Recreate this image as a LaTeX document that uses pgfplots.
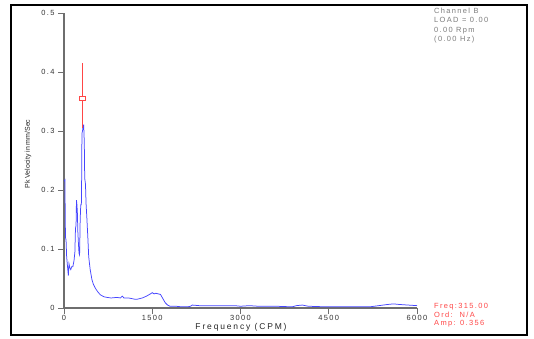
\documentclass[border=0pt]{standalone}
\usepackage{fontspec}
\setmainfont{Liberation Sans}
\usepackage{pgfplots}
\pgfplotsset{compat=1.18}
\newfontfamily\lsf[LetterSpace=18]{Liberation Sans}
\newfontfamily\xlf[LetterSpace=22]{Liberation Sans}
\definecolor{spec}{RGB}{70,70,255}
\definecolor{cur}{RGB}{255,70,70}
\definecolor{axg}{RGB}{110,110,110}
\definecolor{txtg}{RGB}{125,125,125}
\begin{document}
\begin{tikzpicture}[x=1bp,y=1bp]
\useasboundingbox (0,0) rectangle (534,-338);
\fill[white] (0,0) rectangle (534,-338);
\draw[line width=2bp] (11,-5) rectangle (527,-335);
\begin{axis}[
  at={(64bp,-308bp)}, anchor=south west,
  scale only axis, width=353bp, height=295bp,
  xmin=0, xmax=6000, ymin=0, ymax=0.5,
  axis lines*=left,
  axis line style={axg, line width=1.2bp},
  tick style={axg, line width=0.8bp},
  tick align=outside, major tick length=6bp,
  xtick={0,1500,3000,4500,6000},
  xticklabels={0,1500,3000,4500,6000},
  ytick={0,0.1,0.2,0.3,0.4,0.5},
  yticklabels={0,0.1,0.2,0.3,0.4,0.5},
  tick label style={font=\lsf\fontsize{7.5}{9}\selectfont, text=black!80},
  xticklabel style={yshift=2.5bp},
  clip=false,
]
\addplot[spec, line width=0.75bp] coordinates {
(5,0.215) (15,0.217) (25,0.12) (35,0.115) (45,0.087) (60,0.07) (74,0.055)
(85,0.075) (100,0.068) (115,0.065) (130,0.07) (150,0.07) (170,0.08) (185,0.095)
(195,0.135) (205,0.14) (212,0.183) (220,0.175) (228,0.16) (235,0.13) (245,0.11)
(255,0.093) (265,0.09) (275,0.15) (285,0.175) (295,0.175) (300,0.22) (305,0.296)
(315,0.30) (325,0.31) (335,0.31) (345,0.28) (352,0.22) (365,0.21) (375,0.177)
(390,0.15) (405,0.12) (420,0.087) (445,0.065) (475,0.048) (500,0.040) (530,0.034)
(570,0.028) (616,0.0225) (680,0.019) (730,0.018) (800,0.017) (900,0.018) (960,0.017)
(990,0.020) (1020,0.017) (1100,0.017) (1200,0.015) (1250,0.015) (1330,0.017)
(1400,0.020) (1470,0.024) (1500,0.026) (1530,0.024) (1560,0.025) (1600,0.024)
(1640,0.023) (1680,0.016) (1720,0.009) (1760,0.005) (1800,0.003) (1900,0.003)
(2000,0.002) (2100,0.002) (2150,0.003) (2180,0.005) (2300,0.004) (2500,0.004)
(2900,0.004) (3000,0.003) (3150,0.004) (3300,0.003) (3600,0.003) (3880,0.002)
(3950,0.004) (4050,0.005) (4150,0.003) (4450,0.002) (4600,0.002) (5200,0.002)
(5350,0.004) (5500,0.006) (5600,0.007) (5700,0.006) (5850,0.005) (6000,0.004)
};
\addplot[cur, line width=1bp] coordinates {(315,0.305) (315,0.415)};
\addplot[cur, line width=0.8bp, mark=square*, mark options={fill=white, draw=cur, xscale=1.3, yscale=0.9}, mark size=2.2bp, only marks] coordinates {(315,0.356)};
\end{axis}
\node[rotate=90, font=\fontsize{7}{8}\selectfont, text=black!85] at (28,-154) {Pk Velocity in mm/Sec};
\node[font=\xlf\fontsize{8.5}{10}\selectfont, text=black!85] at (241,-327) {Frequency (CPM)};
\node[anchor=north west, align=left, inner sep=0pt, font=\lsf\fontsize{7.5}{9.3}\selectfont, text=txtg] at (434,-8) {Channel B\\LOAD = 0.00\\0.00 Rpm\\(0.00 Hz)};
\node[anchor=north west, align=left, inner sep=0pt, font=\lsf\fontsize{7.5}{8.7}\selectfont, text=cur] at (434,-303) {Freq:315.00\\Ord:\ \ N/A\\Amp: 0.356};
\end{tikzpicture}
\end{document}
